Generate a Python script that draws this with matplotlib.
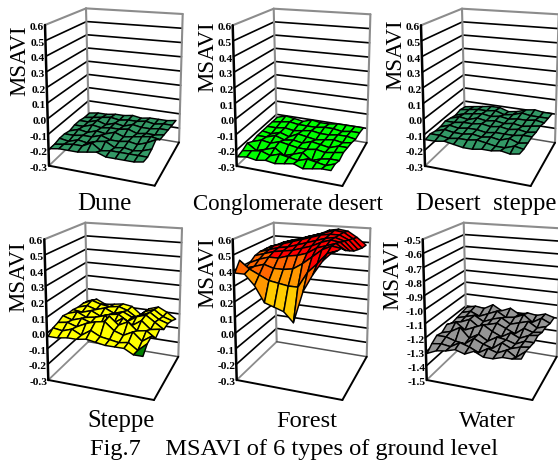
import matplotlib

matplotlib.use("Agg")
import matplotlib.pyplot as plt
import numpy as np
from matplotlib.collections import PolyCollection

W, H = 558, 462

# MSAVI, rows run front -> back, columns left -> right
DUNE = [
    [-.19, -.18, -.18, -.18, -.17, -.16, -.18, -.18, -.18, -.18, -.17],
    [-.19, -.18, -.17, -.17, -.14, -.18, -.17, -.17, -.17, -.17, -.17],
    [-.18, -.19, -.17, -.18, -.16, -.15, -.18, -.17, -.18, -.17, -.15],
    [-.18, -.18, -.17, -.17, -.15, -.17, -.17, -.16, -.17, -.15, -.12],
    [-.19, -.17, -.18, -.16, -.17, -.15, -.17, -.16, -.15, -.14, -.15],
    [-.18, -.18, -.16, -.17, -.16, -.16, -.15, -.17, -.16, -.16, -.15],
    [-.18, -.18, -.16, -.18, -.16, -.17, -.15, -.16, -.16, -.15, -.15],
    [-.19, -.18, -.17, -.16, -.17, -.16, -.16, -.15, -.16, -.15, -.15],
    [-.19, -.18, -.18, -.17, -.17, -.16, -.17, -.16, -.16, -.16, -.15],
]
CONGLOMERATE = [
    [-.24, -.23, -.24, -.23, -.24, -.23, -.22, -.24, -.23, -.22, -.22],
    [-.23, -.22, -.21, -.23, -.21, -.22, -.23, -.21, -.22, -.23, -.21],
    [-.21, -.25, -.23, -.21, -.25, -.23, -.21, -.25, -.23, -.22, -.22],
    [-.23, -.21, -.22, -.2, -.21, -.22, -.22, -.21, -.22, -.21, -.2],
    [-.22, -.22, -.2, -.22, -.21, -.22, -.2, -.21, -.22, -.2, -.2],
    [-.22, -.23, -.21, -.23, -.2, -.21, -.22, -.21, -.2, -.21, -.2],
    [-.22, -.22, -.21, -.22, -.21, -.2, -.21, -.21, -.2, -.2, -.21],
    [-.22, -.21, -.2, -.21, -.21, -.21, -.2, -.2, -.21, -.2, -.2],
    [-.22, -.2, -.21, -.22, -.2, -.21, -.21, -.2, -.2, -.2, -.2],
]
DESERT_STEPPE = [
    [-.13, -.13, -.12, -.13, -.14, -.14, -.13, -.13, -.12, -.13, -.12],
    [-.12, -.12, -.13, -.12, -.12, -.11, -.12, -.13, -.13, -.11, -.12],
    [-.13, -.11, -.12, -.12, -.11, -.12, -.11, -.12, -.1, -.12, -.11],
    [-.13, -.11, -.12, -.11, -.11, -.12, -.11, -.11, -.11, -.1, -.1],
    [-.12, -.12, -.11, -.11, -.1, -.11, -.1, -.11, -.1, -.11, -.1],
    [-.13, -.11, -.12, -.1, -.11, -.1, -.11, -.1, -.11, -.1, -.09],
    [-.14, -.12, -.11, -.1, -.11, -.1, -.11, -.1, -.1, -.09, -.1],
    [-.13, -.12, -.11, -.11, -.1, -.12, -.11, -.09, -.1, -.1, -.1],
    [-.14, -.13, -.12, -.11, -.11, -.13, -.12, -.1, -.09, -.1, -.1],
]
STEPPE = [
    [-.02, -.02, -.01, -.01, 0.0, -.01, -.02, -.02, -.02, -.05, -.05],
    [.01, .0, .02, -.01, .03, .0, -.01, -.02, -.01, -.05, .0],
    [.02, .03, .01, .04, .06, .07, .02, .0, .03, -.02, .02],
    [.04, .02, .04, .02, .01, .08, .03, .06, .01, .02, -.02],
    [.03, .05, .02, .03, .05, .01, .05, .01, .05, .0, .01],
    [.03, .02, .04, .01, .03, .04, .0, .04, .06, .02, -.02],
    [.02, .04, .02, .04, .01, .03, .0, .02, .05, .01, -.01],
    [.02, .05, .03, .02, .03, .01, -.03, .02, .04, .0, -.02],
    [.01, .03, .0, .01, .02, .01, -.04, .01, .03, .0, -.04],
]
FOREST = [
    [.385, .385, .32, .22, .20, .18, .12, .32, .43, .52, .58],
    [.45, .40, .37, .34, .33, .32, .32, .42, .48, .55, .57],
    [.38, .40, .42, .40, .40, .41, .45, .50, .55, .58, .57],
    [.40, .43, .45, .45, .47, .48, .50, .54, .56, .58, .54],
    [.43, .45, .47, .48, .49, .51, .53, .56, .58, .57, .52],
    [.44, .46, .48, .49, .51, .53, .55, .57, .58, .56, .50],
    [.44, .47, .49, .51, .53, .55, .57, .58, .58, .55, .49],
    [.44, .46, .49, .50, .53, .55, .57, .59, .58, .54, .48],
    [.43, .46, .48, .50, .52, .54, .57, .58, .57, .53, .48],
]
WATER = [
    [-1.31, -1.28, -1.27, -1.25, -1.27, -1.24, -1.27, -1.27, -1.25, -1.25, -1.24],
    [-1.27, -1.26, -1.27, -1.23, -1.25, -1.28, -1.24, -1.26, -1.23, -1.27, -1.22],
    [-1.24, -1.24, -1.26, -1.27, -1.22, -1.25, -1.27, -1.22, -1.25, -1.23, -1.22],
    [-1.25, -1.23, -1.19, -1.26, -1.22, -1.26, -1.22, -1.23, -1.25, -1.22, -1.22],
    [-1.22, -1.19, -1.24, -1.21, -1.18, -1.22, -1.25, -1.21, -1.24, -1.21, -1.2],
    [-1.24, -1.22, -1.19, -1.24, -1.21, -1.19, -1.22, -1.25, -1.2, -1.22, -1.21],
    [-1.23, -1.21, -1.19, -1.23, -1.2, -1.18, -1.22, -1.2, -1.18, -1.22, -1.2],
    [-1.22, -1.2, -1.23, -1.2, -1.17, -1.21, -1.2, -1.17, -1.22, -1.18, -1.21],
    [-1.21, -1.19, -1.2, -1.16, -1.2, -1.17, -1.21, -1.19, -1.2, -1.18, -1.2],
]

TITLES = ["Dune", "Conglomerate desert", "Desert  steppe", "Steppe", "Forest", "Water"]
SURFACES = [DUNE, CONGLOMERATE, DESERT_STEPPE, STEPPE, FOREST, WATER]
Z_RANGES = [(-.3, .6), (-.3, .6), (-.3, .6), (-.3, .6), (-.3, .6), (-1.5, -.5)]
# band limits and colours, lowest band first
BAND_LIMITS = [[], [], [], [-.035], [.28, .38, .46], []]
BAND_COLORS = [
    ["#339966"],
    ["#00FF00"],
    ["#339966"],
    ["#008000", "#FFFF00"],
    ["#FFCC00", "#FF9900", "#FF6600", "#FF0000"],
    ["#969696"],
]
CAPTION = "Fig.7    MSAVI of 6 types of ground level"

# front-left floor corner of each box, pixels
ORIGINS = [(49, 165.7), (236.7, 166), (425, 166), (48.3, 380), (236.7, 380), (426.7, 380)]
YLABEL_POS = [(-29, -105), (-28.5, -109), (-29, -111), (-30, -103), (-28.5, -107), (-34, -105)]
TITLE_POS = [(104, 210), (288, 210), (486, 210), (121, 427), (307, 427), (487, 427)]
TITLE_SIZES = [18, 16.5, 17.8, 17.8, 17.6, 17.3]

# box corners relative to the origin: floor then top, A front-left B back-left C back-right D front-right
FLOOR = np.array([[0, 0], [40, -38.3], [130, -23.3], [105.7, 20]])
TOP = np.array([[-4, -140.7], [37, -157.3], [133.7, -151.7], [108.4, -130]])
# the mesh stops short of the right wall, more so at the front
U_START, U_END_FRONT, U_END_BACK = 0.01, 0.89, 0.96

SERIF = "Liberation Serif"
GRAY = "#8c8c8c"


def corner_point(u, v, h):
    # trilinear inside the box; u runs A->D, v runs A->B, h floor->top
    fl = (1 - u) * (1 - v) * FLOOR[0] + (1 - u) * v * FLOOR[1] + u * v * FLOOR[2] + u * (1 - v) * FLOOR[3]
    tp = (1 - u) * (1 - v) * TOP[0] + (1 - u) * v * TOP[1] + u * v * TOP[2] + u * (1 - v) * TOP[3]
    return (1 - h) * fl + h * tp


def seg(ax, p, q, color, lw, zorder=2):
    ax.plot([p[0], q[0]], [p[1], q[1]], color=color, lw=lw, zorder=zorder, solid_capstyle="round")


def draw_box(ax, zmin, zmax):
    steps = int(round((zmax - zmin) * 10))
    for k in range(1, steps):
        h = k / steps
        seg(ax, corner_point(0, 0, h), corner_point(0, 1, h), "black", 1.2)
        seg(ax, corner_point(0, 1, h) + np.array([1.2, 0]), corner_point(1, 1, h), "black", 1.2)
    for k in range(steps + 1):
        h = k / steps
        value = round(zmin + (zmax - zmin) * h, 1) + 0.0
        p = corner_point(0, 0, h)
        ax.text(p[0] - 1.0, p[1] + 2.6, f"{value:.1f}", ha="right", va="center",
                family=SERIF, weight="bold", fontsize=8.2, color="black", zorder=5)
    # gray walls
    seg(ax, TOP[0], TOP[1], GRAY, 1.5)
    seg(ax, TOP[1], TOP[2], GRAY, 1.5)
    seg(ax, FLOOR[1], TOP[1], GRAY, 1.5)
    seg(ax, FLOOR[2], TOP[2], GRAY, 1.5)
    seg(ax, FLOOR[0], FLOOR[1], GRAY, 1.3)
    seg(ax, FLOOR[1], FLOOR[2], "#555555", 1.1)
    # black front edges
    seg(ax, FLOOR[0], TOP[0], "black", 1.8, 3)
    seg(ax, FLOOR[0], FLOOR[3], "black", 1.4, 3)
    seg(ax, FLOOR[3], FLOOR[2], "black", 1.4, 3)


def draw_surface(ax, values, zmin, zmax, limits, colors):
    z = np.asarray(values, dtype=float)
    rows, cols = z.shape
    vs = np.arange(rows) / (rows - 1)
    polys, faces = [], []

    def vertex(r, c):
        u_end = U_END_FRONT + (U_END_BACK - U_END_FRONT) * vs[r]
        u = U_START + (u_end - U_START) * c / (cols - 1)
        return corner_point(u, vs[r], (z[r, c] - zmin) / (zmax - zmin))

    # furthest corner is back-left, nearest is front-right
    for j in range(cols - 1):
        for i in range(rows - 2, -1, -1):
            corners = [(i, j), (i, j + 1), (i + 1, j + 1), (i + 1, j)]
            polys.append([vertex(r, c) for r, c in corners])
            faces.append(colors[np.searchsorted(limits, np.mean([z[r, c] for r, c in corners]))])
    ax.add_collection(PolyCollection(polys, facecolors=faces, edgecolors="black",
                                     linewidths=1.05, zorder=4))


fig = plt.figure(figsize=(W / 100, H / 100), dpi=100)
fig.patch.set_facecolor("white")

for n, values in enumerate(SURFACES):
    ox, oy = ORIGINS[n]
    left, right, up, down = 60, 140, 170, 40
    ax = fig.add_axes([(ox - left) / W, 1 - (oy + down) / H, (left + right) / W, (up + down) / H])
    ax.set_xlim(-left, right)
    ax.set_ylim(down, -up)
    ax.axis("off")
    ax.patch.set_alpha(0)
    zmin, zmax = Z_RANGES[n]
    draw_box(ax, zmin, zmax)
    draw_surface(ax, values, zmin, zmax, BAND_LIMITS[n], BAND_COLORS[n])
    lx, ly = YLABEL_POS[n]
    ax.text(lx, ly, "MSAVI", rotation=90, ha="center", va="center",
            family=SERIF, fontsize=16.5, color="black")
    tx, ty = TITLE_POS[n]
    fig.text(tx / W, 1 - ty / H, TITLES[n], ha="center", va="baseline",
             family=SERIF, fontsize=TITLE_SIZES[n], color="black")

fig.text(294 / W, 1 - 455 / H, CAPTION, ha="center", va="baseline",
         family=SERIF, fontsize=17.6, color="black")

fig.savefig("out.png", dpi=100, facecolor="white")
plt.close(fig)
